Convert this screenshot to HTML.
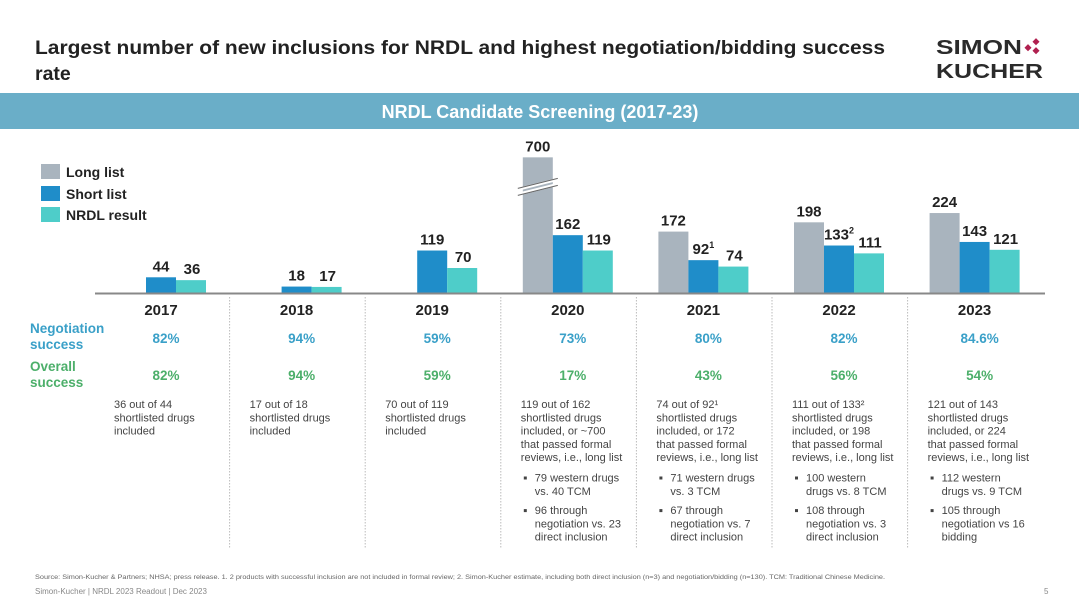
<!DOCTYPE html>
<html><head><meta charset="utf-8"><style>
body{margin:0;background:#fff;}
svg{display:block;font-family:"Liberation Sans",sans-serif;}
</style></head><body>
<svg id="c" width="1080" height="607" viewBox="0 0 1080 607" xmlns="http://www.w3.org/2000/svg">
<text x="35" y="54" font-size="19.5" font-weight="bold" fill="#222" textLength="850" lengthAdjust="spacingAndGlyphs">Largest number of new inclusions for NRDL and highest negotiation/bidding success</text>
<text x="35" y="80" font-size="19.5" font-weight="bold" fill="#222">rate</text>
<g>
<text x="936" y="54" font-size="20" font-weight="bold" fill="#2b2b2b" textLength="86" lengthAdjust="spacingAndGlyphs">SIMON</text>
<text x="936" y="78" font-size="20" font-weight="bold" fill="#2b2b2b" textLength="107" lengthAdjust="spacingAndGlyphs">KUCHER</text>
<rect x="1026" y="45" width="5" height="5" fill="#b0204f" transform="rotate(45 1028 47)"/>
<rect x="1034" y="39" width="5" height="5" fill="#b0204f" transform="rotate(45 1036 41)"/>
<rect x="1034" y="48" width="5" height="5" fill="#b0204f" transform="rotate(45 1036 50)"/>
</g>
<rect x="0" y="93" width="1079" height="36" fill="#6aaec8"/>
<text x="540" y="118" font-size="18" font-weight="bold" fill="#fff" text-anchor="middle">NRDL Candidate Screening (2017-23)</text>
<g>
<rect x="41" y="164" width="19" height="15" fill="#a9b4be"/><text x="66" y="177" font-size="14" font-weight="bold" fill="#222">Long list</text>
<rect x="41" y="186" width="19" height="15" fill="#1f8dc9"/><text x="66" y="199" font-size="14" font-weight="bold" fill="#222">Short list</text>
<rect x="41" y="207" width="19" height="15" fill="#4ecdc9"/><text x="66" y="220" font-size="14" font-weight="bold" fill="#222">NRDL result</text>
</g>
<text x="30" y="333" font-size="13.5" font-weight="bold" fill="#3aa0c8">Negotiation</text>
<text x="30" y="349" font-size="13.5" font-weight="bold" fill="#3aa0c8">success</text>
<text x="30" y="371" font-size="13.5" font-weight="bold" fill="#4caf6a">Overall</text>
<text x="30" y="387" font-size="13.5" font-weight="bold" fill="#4caf6a">success</text>
<g id="g"></g>
<line x1="95" y1="293.5" x2="1045" y2="293.5" stroke="#888" stroke-width="2"/>
<text x="35" y="579" font-size="6" fill="#666" textLength="850" lengthAdjust="spacingAndGlyphs">Source: Simon-Kucher &amp; Partners; NHSA; press release. 1. 2 products with successful inclusion are not included in formal review; 2. Simon-Kucher estimate, including both direct inclusion (n=3) and negotiation/bidding (n=130). TCM: Traditional Chinese Medicine.</text>
<text x="35" y="594" font-size="8" fill="#888">Simon-Kucher | NRDL 2023 Readout | Dec 2023</text>
<text x="1044" y="594" font-size="8" fill="#888">5</text>
</svg>
<script>
const years=["2017","2018","2019","2020","2021","2022","2023"];
const longList=[null,null,null,700,172,198,224];
const shortList=[44,18,119,162,92,133,143];
const nrdlResult=[36,17,70,119,74,111,121];
const shortSup=["","","","","1","2",""];
const negotiation=["82%","94%","59%","73%","80%","82%","84.6%"];
const overall=["82%","94%","59%","17%","43%","56%","54%"];
const notes=[
["36 out of 44","shortlisted drugs","included"],
["17 out of 18","shortlisted drugs","included"],
["70 out of 119","shortlisted drugs","included"],
["119 out of 162","shortlisted drugs","included, or ~700","that passed formal","reviews, i.e., long list"],
["74 out of 92¹","shortlisted drugs","included, or 172","that passed formal","reviews, i.e., long list"],
["111 out of 133²","shortlisted drugs","included, or 198","that passed formal","reviews, i.e., long list"],
["121 out of 143","shortlisted drugs","included, or 224","that passed formal","reviews, i.e., long list"]];
const bullets=[[],[],[],
[["79 western drugs","vs. 40 TCM"],["96 through","negotiation vs. 23","direct inclusion"]],
[["71 western drugs","vs. 3 TCM"],["67 through","negotiation vs. 7","direct inclusion"]],
[["100 western","drugs vs. 8 TCM"],["108 through","negotiation vs. 3","direct inclusion"]],
[["112 western","drugs vs. 9 TCM"],["105 through","negotiation vs 16","bidding"]]];
const NS="http://www.w3.org/2000/svg",g=document.getElementById("g");
const base=293,k=0.357,cap=380,bw=30;
const xc=i=>161+135.6*i;
const y=v=>base-Math.min(v,cap)*k;
function mk(t,a,txt){const e=document.createElementNS(NS,t);for(const p in a)e.setAttribute(p,a[p]);if(txt!==undefined)e.textContent=txt;g.appendChild(e);return e;}
function lbl(x,v,s,sup){const t=mk("text",{x:x,y:y(v)-6,"font-size":15,"font-weight":"bold",fill:"#222","text-anchor":"middle"});t.textContent=s;if(sup){const u=document.createElementNS(NS,"tspan");u.setAttribute("font-size","9");u.setAttribute("dy","-6");u.textContent=sup;t.appendChild(u);}return t;}
years.forEach((yr,i)=>{
 const c=xc(i);
 if(longList[i]!==null){
  const r=mk("rect",{x:c-45,y:y(longList[i]),width:bw,height:base-y(longList[i]),fill:"#a9b4be"});
  
  
  const l=lbl(c-30,longList[i],String(longList[i]));
  
  
  if(longList[i]>cap){mk("path",{d:`M${c-50} ${y(longList[i])+32} L${c-10} ${y(longList[i])+22} M${c-50} ${y(longList[i])+37} L${c-10} ${y(longList[i])+27}`,stroke:"#fff","stroke-width":3});
   const b2=mk("path",{d:`M${c-50} ${y(longList[i])+31} L${c-10} ${y(longList[i])+21} M${c-50} ${y(longList[i])+38} L${c-10} ${y(longList[i])+28}`,stroke:"#666","stroke-width":1});
   
   }
 }
 const s=mk("rect",{x:c-15,y:y(shortList[i]),width:bw,height:base-y(shortList[i]),fill:"#1f8dc9"});
 
 
 const sl=lbl(c,shortList[i],String(shortList[i]),shortSup[i]);
 
 
 const n=mk("rect",{x:c+15,y:y(nrdlResult[i]),width:bw,height:base-y(nrdlResult[i]),fill:"#4ecdc9"});
 
 
 const nl=lbl(c+31,nrdlResult[i],String(nrdlResult[i]));
 
 
 const yl=mk("text",{x:c,y:315,"font-size":15,"font-weight":"bold",fill:"#222","text-anchor":"middle"},yr);
 
 
 const ng=mk("text",{x:c+5,y:343,"font-size":13.5,"font-weight":"bold",fill:"#3aa0c8","text-anchor":"middle"},negotiation[i]);
 
 
 const ov=mk("text",{x:c+5,y:380,"font-size":13.5,"font-weight":"bold",fill:"#4caf6a","text-anchor":"middle"},overall[i]);
 
 
 const tx=c-47;let ty=408;
 notes[i].forEach(line=>{const t=mk("text",{x:tx,y:ty,"font-size":11,fill:"#444"},line);
  
  ty+=13.3;});
 ty+=7;
 bullets[i].forEach(b=>{mk("rect",{x:tx+3,y:ty-5,width:3,height:3,fill:"#444"});
  b.forEach(line=>{const t=mk("text",{x:tx+14,y:ty,"font-size":11,fill:"#444"},line);
   
   ty+=13.3;});ty+=6;});
 if(i>0){const d=mk("line",{x1:c-67,y1:297,x2:c-67,y2:548,stroke:"#bbb","stroke-dasharray":"1.5,1.5"});
  
  }
});
</script>
</body></html>
